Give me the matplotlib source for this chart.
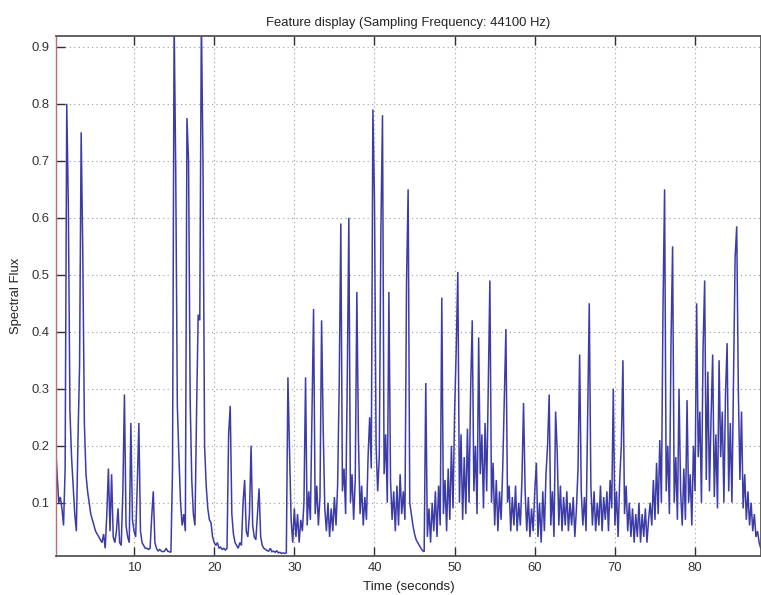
import numpy as np
import matplotlib
matplotlib.use("Agg")
import matplotlib.pyplot as plt

# spectral flux, one value per 0.2 s frame, split in 10 s blocks
hop = 0.2

flux_00_10 = [0.20, 0.15, 0.10, 0.11, 0.09, 0.06, 0.16, 0.80, 0.62, 0.26,
              0.18, 0.13, 0.08, 0.05, 0.21, 0.34, 0.75, 0.54, 0.24, 0.15,
              0.12, 0.10, 0.08, 0.07, 0.06, 0.05, 0.045, 0.04, 0.035, 0.03,
              0.045, 0.02, 0.08, 0.16, 0.05, 0.15, 0.04, 0.03, 0.05, 0.09,
              0.03, 0.025, 0.12, 0.29, 0.06, 0.04, 0.03, 0.24, 0.07, 0.05]

flux_10_20 = [0.04, 0.13, 0.24, 0.05, 0.03, 0.025, 0.02, 0.02, 0.018, 0.02,
              0.075, 0.12, 0.03, 0.02, 0.015, 0.018, 0.015, 0.014, 0.015, 0.02,
              0.015, 0.014, 0.013, 0.16, 0.95, 0.68, 0.27, 0.18, 0.10, 0.06,
              0.08, 0.05, 0.775, 0.70, 0.28, 0.14, 0.08, 0.06, 0.26, 0.43,
              0.42, 0.95, 0.70, 0.20, 0.13, 0.09, 0.07, 0.065, 0.04, 0.03]

flux_20_30 = [0.025, 0.03, 0.02, 0.022, 0.018, 0.02, 0.017, 0.02, 0.22, 0.27,
              0.08, 0.045, 0.03, 0.025, 0.02, 0.03, 0.025, 0.10, 0.14, 0.05,
              0.04, 0.08, 0.20, 0.06, 0.04, 0.035, 0.08, 0.125, 0.04, 0.025,
              0.02, 0.018, 0.016, 0.015, 0.02, 0.014, 0.015, 0.013, 0.016, 0.012,
              0.013, 0.011, 0.012, 0.011, 0.012, 0.32, 0.19, 0.07, 0.03, 0.09]

flux_30_40 = [0.04, 0.08, 0.03, 0.07, 0.05, 0.10, 0.32, 0.06, 0.12, 0.07,
              0.25, 0.44, 0.08, 0.13, 0.06, 0.11, 0.42, 0.23, 0.09, 0.05,
              0.10, 0.04, 0.09, 0.05, 0.11, 0.06, 0.13, 0.31, 0.59, 0.12,
              0.16, 0.08, 0.31, 0.60, 0.10, 0.15, 0.07, 0.14, 0.47, 0.21,
              0.08, 0.13, 0.06, 0.11, 0.07, 0.18, 0.25, 0.16, 0.79, 0.63]

flux_40_50 = [0.20, 0.12, 0.18, 0.58, 0.78, 0.15, 0.22, 0.10, 0.47, 0.14,
              0.07, 0.12, 0.05, 0.13, 0.06, 0.15, 0.08, 0.12, 0.07, 0.49,
              0.65, 0.10, 0.08, 0.06, 0.045, 0.035, 0.03, 0.025, 0.02, 0.016,
              0.014, 0.31, 0.04, 0.09, 0.03, 0.10, 0.05, 0.12, 0.04, 0.13,
              0.06, 0.46, 0.08, 0.14, 0.05, 0.16, 0.07, 0.20, 0.09, 0.26]

flux_50_60 = [0.37, 0.505, 0.10, 0.22, 0.07, 0.18, 0.08, 0.23, 0.10, 0.30,
              0.42, 0.12, 0.20, 0.08, 0.39, 0.15, 0.22, 0.09, 0.24, 0.12,
              0.30, 0.49, 0.10, 0.17, 0.06, 0.14, 0.05, 0.12, 0.07, 0.16,
              0.28, 0.405, 0.10, 0.13, 0.05, 0.11, 0.06, 0.13, 0.05, 0.10,
              0.06, 0.14, 0.275, 0.12, 0.05, 0.11, 0.04, 0.09, 0.05, 0.12]

flux_60_70 = [0.17, 0.04, 0.10, 0.03, 0.12, 0.05, 0.15, 0.20, 0.29, 0.06,
              0.12, 0.04, 0.26, 0.19, 0.06, 0.13, 0.05, 0.11, 0.06, 0.12,
              0.05, 0.10, 0.06, 0.11, 0.04, 0.09, 0.16, 0.36, 0.12, 0.06,
              0.11, 0.05, 0.25, 0.45, 0.13, 0.06, 0.12, 0.05, 0.10, 0.06,
              0.13, 0.05, 0.11, 0.07, 0.12, 0.05, 0.14, 0.09, 0.30, 0.06]

flux_70_80 = [0.12, 0.04, 0.14, 0.20, 0.35, 0.08, 0.13, 0.05, 0.10, 0.04,
              0.09, 0.03, 0.08, 0.04, 0.10, 0.03, 0.08, 0.04, 0.09, 0.03,
              0.07, 0.10, 0.06, 0.14, 0.07, 0.17, 0.08, 0.21, 0.10, 0.44,
              0.65, 0.12, 0.20, 0.08, 0.38, 0.55, 0.10, 0.18, 0.07, 0.30,
              0.12, 0.06, 0.16, 0.07, 0.28, 0.10, 0.15, 0.06, 0.20, 0.12]

flux_80_88 = [0.45, 0.18, 0.26, 0.10, 0.37, 0.49, 0.14, 0.33, 0.12, 0.25,
              0.36, 0.11, 0.22, 0.09, 0.35, 0.18, 0.26, 0.10, 0.29, 0.38,
              0.12, 0.24, 0.10, 0.32, 0.53, 0.585, 0.30, 0.14, 0.26, 0.09,
              0.15, 0.07, 0.12, 0.06, 0.10, 0.05, 0.08, 0.04, 0.05, 0.03,
              0.02]

flux = np.concatenate([flux_00_10, flux_10_20, flux_20_30, flux_30_40, flux_40_50,
                       flux_50_60, flux_60_70, flux_70_80, flux_80_88])
t = hop * np.arange(1, len(flux) + 1)

xticks = [10, 20, 30, 40, 50, 60, 70, 80]
yticks = [0.1, 0.2, 0.3, 0.4, 0.5, 0.6, 0.7, 0.8, 0.9]

plt.rcParams['font.family'] = ['Liberation Sans', 'DejaVu Sans']

fig = plt.figure(figsize=(7.61, 5.95), dpi=100)
ax = fig.add_axes([56 / 761, 39 / 595, 705 / 761, 520 / 595])

ax.plot(t, flux, color='#3c3ca8', linewidth=1.1, solid_joinstyle='miter')

ax.set_xlim(0.26, 88.23)
ax.set_ylim(0.0065, 0.919)
ax.set_xticks(xticks)
ax.set_yticks(yticks)
ax.set_yticklabels([f"{v:.1f}" for v in yticks])

ax.grid(True, linestyle=(0, (1, 3)), color='#9a9a9a', linewidth=0.8)
ax.tick_params(direction='in', length=6.5, width=1.0, color='#303030',
               labelsize=9.4, labelcolor='#333333', top=True, pad=4.5)
for side in ['top', 'bottom', 'right']:
    ax.spines[side].set_color('#555555')
    ax.spines[side].set_linewidth(1.3)
ax.spines['left'].set_color('#c46a6a')
ax.spines['left'].set_linewidth(1.0)

ax.set_title("Feature display (Sampling Frequency: 44100 Hz)", fontsize=9.4,
             color='#222222', pad=7)
ax.set_xlabel("Time (seconds)", fontsize=9.6, color='#222222', labelpad=5)
ax.set_ylabel("Spectral Flux", fontsize=9.4, color='#222222', labelpad=7)

fig.savefig("out.png", dpi=100)
